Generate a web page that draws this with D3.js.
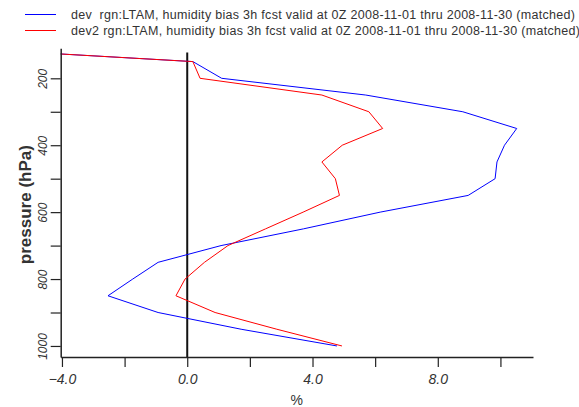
<!DOCTYPE html>
<html>
<head>
<meta charset="utf-8">
<script src="https://cdn.jsdelivr.net/npm/d3@7"></script>
<style>
  html, body { margin: 0; padding: 0; background: #fff; }
  svg { display: block; }
  text { font-family: "Liberation Sans", Arial, sans-serif; }
</style>
</head>
<body>
<svg id="chart" width="579" height="407"></svg>
<script>
// ---- data ----
const pressureLevels = [100, 150, 200, 250, 300, 350, 400, 450, 500, 550, 600, 650, 700, 750, 800, 850, 900, 950, 1000];
const devBias  = [-9.1, 0.18, 1.10, 5.70, 8.80, 10.52, 10.13, 9.89, 9.83, 8.97, 6.16, 3.71, 1.08, -0.93, -1.74, -2.53, -0.93, 1.72, 4.78];
const dev2Bias = [-9.1, 0.18, 0.41, 4.30, 5.80, 6.24, 4.95, 4.30, 4.73, 4.86, 3.70, 2.50, 1.30, 0.55, -0.07, -0.36, 0.89, 2.86, 4.94];
const seriesNames = [
  "dev  rgn:LTAM, humidity bias 3h fcst valid at 0Z 2008-11-01 thru 2008-11-30 (matched)",
  "dev2 rgn:LTAM, humidity bias 3h fcst valid at 0Z 2008-11-01 thru 2008-11-30 (matched)"
];
const seriesColors = ["#0000ff", "#ff0000"];
const xTicks = [-4, -2, 0, 2, 4, 6, 8, 10];
const xTickLabels = [-4, 0, 4, 8];
const yTicks = [200, 300, 400, 500, 600, 700, 800, 900, 1000];
const yTickLabels = [200, 400, 600, 800, 1000];

// ---- layout ----
const svg = d3.select("#chart");
const pLeft = 60.7, pRight = 533, pTop = 48.3, pBottom = 357;

const x = d3.scaleLinear().domain([-4.04, 11.04]).range([pLeft, pRight]);
const y = d3.scaleLinear().domain([110.3, 1033]).range([pTop, pBottom]);

// clip
svg.append("defs").append("clipPath").attr("id", "plotclip")
  .append("rect").attr("x", pLeft).attr("y", pTop - 10).attr("width", pRight - pLeft).attr("height", pBottom - pTop + 10);

// zero line
svg.append("line")
  .attr("x1", x(0)).attr("x2", x(0))
  .attr("y1", y(123)).attr("y2", y(1033))
  .attr("stroke", "#111").attr("stroke-width", 2);

// series
const line = d3.line().x(d => x(d[0])).y(d => y(d[1]));
[devBias, dev2Bias].forEach((vals, i) => {
  svg.append("path")
    .attr("clip-path", "url(#plotclip)")
    .datum(vals.map((v, j) => [v, pressureLevels[j]]))
    .attr("d", line)
    .attr("fill", "none")
    .attr("stroke", seriesColors[i])
    .attr("stroke-width", 1);
});

// x axis
const xAxis = d3.axisBottom(x).tickValues(xTicks).tickSize(10).tickSizeOuter(0)
  .tickFormat(d => xTickLabels.includes(d) ? d3.format(".1f")(d) : "");
const gx = svg.append("g").attr("transform", `translate(0,${pBottom})`).call(xAxis);
gx.select(".domain").attr("stroke", "#222").attr("stroke-width", 1.5);
gx.selectAll(".tick line").attr("stroke", "#222").attr("stroke-width", 1.2);
gx.selectAll(".tick text")
  .attr("font-size", 14).attr("font-style", "italic").attr("fill", "#333")
  .attr("dy", null).attr("y", 27);

// y axis
const yAxis = d3.axisLeft(y).tickValues(yTicks).tickSize(10).tickSizeOuter(0)
  .tickFormat(d => yTickLabels.includes(d) ? String(d) : "");
const gy = svg.append("g").attr("transform", `translate(${pLeft},0)`).call(yAxis);
gy.select(".domain").attr("stroke", "#222").attr("stroke-width", 1.5);
gy.selectAll(".tick line").attr("stroke", "#222").attr("stroke-width", 1.2);
gy.selectAll(".tick text")
  .attr("font-size", 12).attr("font-style", "italic").attr("fill", "#333")
  .attr("x", null).attr("dy", null)
  .attr("text-anchor", "middle")
  .attr("transform", "translate(-14,0) rotate(-90)");

// axis titles
svg.append("text")
  .attr("transform", `translate(31,${(pTop + pBottom) / 2 + 2}) rotate(-90)`)
  .attr("text-anchor", "middle")
  .attr("font-size", 17).attr("font-weight", "bold").attr("fill", "#333")
  .text("pressure (hPa)");
svg.append("text")
  .attr("x", x(3.5)).attr("y", 405)
  .attr("text-anchor", "middle")
  .attr("font-size", 14).attr("fill", "#333")
  .text("%");

// legend
seriesNames.forEach((name, i) => {
  const ly = 14.5 + i * 16;
  svg.append("line").attr("x1", 25).attr("x2", 56).attr("y1", ly).attr("y2", ly)
    .attr("stroke", seriesColors[i]).attr("stroke-width", 1);
  svg.append("text")
    .attr("x", 71).attr("y", ly + 4.5)
    .attr("font-size", 12.5).attr("fill", "#333")
    .attr("xml:space", "preserve").style("white-space", "pre")
    .attr("textLength", i === 0 ? 504 : 509).attr("lengthAdjust", "spacing")
    .text(name);
});
</script>
</body>
</html>
